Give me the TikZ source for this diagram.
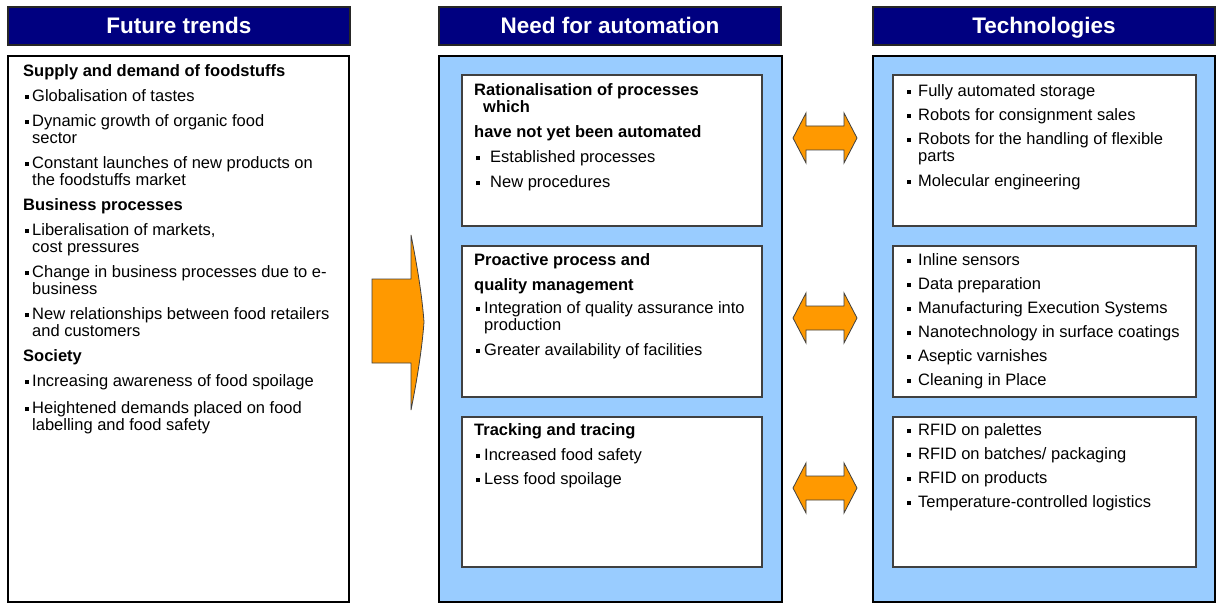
\documentclass[tikz,border=0pt]{standalone}
\usepackage{fontspec}
\setmainfont{Liberation Sans}
\usetikzlibrary{positioning}
\definecolor{navy}{RGB}{0,0,128}
\definecolor{skyblue}{RGB}{153,204,255}
\definecolor{arrorange}{RGB}{255,153,0}
\tikzset{
	headnode/.style={rectangle, draw=black!85, fill=navy, text=white, line width=1.2pt, outer sep=0pt, anchor=north west, minimum width=342pt, minimum height=38pt, text height=16pt, text depth=0pt, font=\fontsize{22.5}{24}\selectfont\bfseries},
	outernode/.style={rectangle, draw=black, fill=white, line width=2pt, outer sep=0pt, anchor=north west, minimum height=546pt},
	bluenode/.style={outernode, fill=skyblue},
	innernode/.style={rectangle, draw=black!75, fill=white, line width=1.2pt, outer sep=0pt, anchor=north west, minimum height=151pt},
	textnode/.style={anchor=north west, inner sep=0pt, align=left, font=\fontsize{16.5}{17}\selectfont},
	arrownode/.style={fill=arrorange, draw=black!75, line width=0.8pt, line join=miter},
	twoway/.pic={\draw[arrownode] (-32,0) -- (-19,-25) -- (-19,-12) -- (19,-12) -- (19,-25) -- (32,0) -- (19,25) -- (19,12) -- (-19,12) -- (-19,25) -- cycle;}
}
\newcommand{\bul}[1]{\makebox[#1pt][l]{\hspace*{2pt}\rule[2pt]{4pt}{4pt}}}
\newcommand{\ind}[1]{\hspace*{#1pt}}
\newcommand{\tp}{\rule{0pt}{13pt}}

\begin{document}
\begin{tikzpicture}[x=1pt, y=-1pt]
	\useasboundingbox (0,0) rectangle (1218,604);
	\fill[white] (0,0) rectangle (1218,604);
	\node[headnode] at (8,7) (trendhead) {Future trends};
	\node[headnode] at (439,7) (needhead) {Need for automation};
	\node[headnode] at (873,7) (techhead) {Technologies};
	\node[outernode, minimum width=341pt] at (8,56) (trends) {};
	\node[bluenode, minimum width=343pt] at (439,56) (need) {};
	\node[bluenode, minimum width=342pt] at (873,56) (tech) {};
	\node[innernode, minimum width=300pt] at (462,75) (needA) {};
	\node[innernode, minimum width=300pt] at (462,246) (needB) {};
	\node[innernode, minimum width=300pt, minimum height=150pt] at (462,417) (needC) {};
	\node[innernode, minimum width=303pt] at (893,75) (techA) {};
	\node[innernode, minimum width=303pt] at (893,246) (techB) {};
	\node[innernode, minimum width=303pt, minimum height=150pt] at (893,417) (techC) {};
	\node[textnode] at (23,63) (trendtext) {\tp\textbf{Supply and demand of foodstuffs}\\[8pt]
		\bul{9}Globalisation of tastes\\[8pt]
		\bul{9}Dynamic growth of organic food\\ \ind{9}sector\\[8pt]
		\bul{9}Constant launches of new products on\\ \ind{9}the foodstuffs market\\[8pt]
		\textbf{Business processes}\\[8pt]
		\bul{9}Liberalisation of markets,\\ \ind{9}cost pressures\\[8pt]
		\bul{9}Change in business processes due to e-\\ \ind{9}business\\[8pt]
		\bul{9}New relationships between food retailers\\ \ind{9}and customers\\[8pt]
		\textbf{Society}\\[8pt]
		\bul{9}Increasing awareness of food spoilage\\[10pt]
		\bul{9}Heightened demands placed on food\\ \ind{9}labelling and food safety};
	\node[textnode] at (474,82) (needAtext) {\tp\textbf{Rationalisation of processes}\\ \ind{9}\textbf{which}\\[8pt]
		\textbf{have not yet been automated}\\[8pt]
		\bul{16}Established processes\\[8pt]
		\bul{16}New procedures};
	\node[textnode] at (474,252) (needBtext) {\tp\textbf{Proactive process and}\\[8pt]
		\textbf{quality management}\\[6pt]
		\bul{10}Integration of quality assurance into\\ \ind{10}production\\[8pt]
		\bul{10}Greater availability of facilities};
	\node[textnode] at (474,422) (needCtext) {\tp\textbf{Tracking and tracing}\\[8pt]
		\bul{10}Increased food safety\\[7pt]
		\bul{10}Less food spoilage};
	\node[textnode] at (905,83) (techAtext) {\tp\bul{13}Fully automated storage\\[7pt]
		\bul{13}Robots for consignment sales\\[7pt]
		\bul{13}Robots for the handling of flexible\\ \ind{13}parts\\[8pt]
		\bul{13}Molecular engineering};
	\node[textnode] at (905,252) (techBtext) {\tp\bul{13}Inline sensors\\[7pt]
		\bul{13}Data preparation\\[7pt]
		\bul{13}Manufacturing Execution Systems\\[7pt]
		\bul{13}Nanotechnology in surface coatings\\[7pt]
		\bul{13}Aseptic varnishes\\[7pt]
		\bul{13}Cleaning in Place};
	\node[textnode] at (905,422) (techCtext) {\tp\bul{13}RFID on palettes\\[7pt]
		\bul{13}RFID on batches/ packaging\\[7pt]
		\bul{13}RFID on products\\[7pt]
		\bul{13}Temperature-controlled logistics};
	\draw[arrownode] (372,279) -- (411,279) -- (411,235) .. controls (417,265) and (422,295) .. (424,322) .. controls (422,349) and (417,380) .. (411,410) -- (411,363) -- (372,363) -- cycle;
	\pic at (825,138) {twoway};
	\pic at (825,318) {twoway};
	\pic at (825,488) {twoway};
\end{tikzpicture}
\end{document}
